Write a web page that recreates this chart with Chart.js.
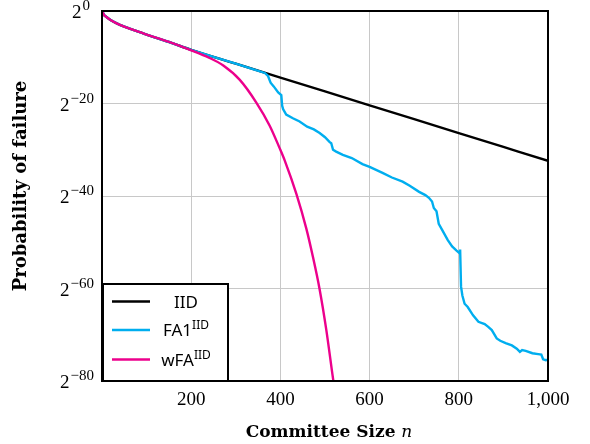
<!DOCTYPE html>
<html>
<head>
<meta charset="utf-8">
<script src="https://cdn.jsdelivr.net/npm/chart.js@4.4.0/dist/chart.umd.min.js"></script>
<style>
  html, body { margin: 0; padding: 0; background: #fff; }
  canvas { display: block; }
</style>
</head>
<body>
<canvas id="grafico" width="590" height="444"></canvas>
<script>
// valores (expoente de base 2 da probabilidade de falha)
const iidN   = [0, 5, 10, 20, 40, 70, 100, 150, 200, 300, 400, 500, 600, 700, 800, 900, 1000];
const iidLog = [0, -0.9, -1.3, -2.0, -3.0, -4.1, -5.1, -6.7, -8.4, -11.4, -14.4, -17.4, -20.4, -23.4, -26.4, -29.4, -32.4];

const fa1N = [0, 5, 10, 20, 40, 70, 100, 150, 200, 250, 300, 340, 365, 372, 378, 385, 395, 402, 404, 406, 413,
  428, 443, 460, 475, 488, 500, 510, 514, 518, 525, 540, 560, 584, 600, 629, 650, 674, 690, 711, 725, 733,
  740, 744, 750, 755, 762, 775, 785, 795, 802, 803, 805, 808, 813, 820, 832, 844, 858, 866, 874, 885, 893,
  905, 919, 930, 937, 942, 950, 965, 978, 985, 989, 995, 1000];
const fa1Log = [0, -0.9, -1.3, -2.0, -3.0, -4.1, -5.1, -6.7, -8.4, -9.9, -11.4, -12.6, -13.4, -14.0, -15.5, -16.3, -17.6, -18.2, -20.5, -21.2, -22.4,
  -23.2, -23.9, -25.0, -25.6, -26.4, -27.3, -28.3, -28.6, -30.0, -30.4, -31.1, -31.8, -33.1, -33.7, -35.0, -36.0, -36.9, -37.8, -39.1, -39.8, -40.4,
  -41.2, -42.6, -43.3, -46.0, -47.2, -49.5, -50.9, -51.8, -52.4, -51.6, -59.6, -61.5, -63.3, -64.0, -65.8, -67.2, -67.7, -68.3, -69.0, -70.8, -71.3,
  -71.8, -72.3, -73.0, -73.7, -73.3, -73.5, -74.0, -74.2, -74.3, -75.3, -75.5, -75.4];

const wfaN   = [0, 5, 10, 20, 40, 70, 100, 150, 200, 240, 272, 309, 346, 376, 398, 410, 436, 458, 473, 488, 503, 517, 521];
const wfaLog = [0, -0.9, -1.3, -2.0, -3.0, -4.1, -5.1, -6.7, -8.5, -10.1, -11.8, -14.9, -19.8, -24.8, -29.6, -32.4, -39.6, -47.0, -53.2, -60.2, -69.0, -78.8, -81.5];

const xTicks = [200, 400, 600, 800, 1000];
const yTicks = [0, -20, -40, -60, -80];

const legendas = [
  { base: 'IID', sup: '', cor: '#000000' },
  { base: 'FA1', sup: 'IID', cor: '#00aeef' },
  { base: 'wFA', sup: 'IID', cor: '#ec008c' }
];

const pontos = (xs, ys) => xs.map((x, i) => ({ x: x, y: ys[i] }));

const serif = "'Liberation Serif', 'DejaVu Serif', serif";
const serifTit = "'DejaVu Serif', 'Liberation Serif', serif";
const sans = "'Noto Sans', 'DejaVu Sans', sans-serif";

// desenha moldura, rótulos do eixo y (2^k), títulos e legenda
const extras = {
  id: 'extras',
  afterDatasetsDraw(chart) {
    const ctx = chart.ctx;
    const a = chart.chartArea;
    const ys = chart.scales.y;
    ctx.save();

    // moldura
    ctx.strokeStyle = '#000';
    ctx.lineWidth = 2;
    ctx.strokeRect(a.left, a.top, a.right - a.left, a.bottom - a.top);

    // rótulos 2^k
    ctx.fillStyle = '#000';
    ctx.textBaseline = 'alphabetic';
    ctx.textAlign = 'left';
    yTicks.forEach(v => {
      const y = ys.getPixelForValue(v);
      const exp = v === 0 ? '0' : '\u2212' + Math.abs(v);
      ctx.font = '19px ' + serif;
      const w2 = ctx.measureText('2').width;
      ctx.font = '15px ' + serif;
      const we = ctx.measureText(exp).width;
      const xr = v === 0 ? 90 : 94;
      const x0 = xr - w2 - we - 1;
      ctx.font = '19px ' + serif;
      ctx.fillText('2', x0, y + 7);
      ctx.font = '15px ' + serif;
      ctx.fillText(exp, x0 + w2 + 1, y - 1);
    });

    // título do eixo y
    ctx.save();
    ctx.translate(26, 186);
    ctx.rotate(-Math.PI / 2);
    ctx.font = 'bold 18px ' + serifTit;
    ctx.textAlign = 'center';
    ctx.fillText('Probability of failure', 0, 0);
    ctx.restore();

    // título do eixo x
    ctx.font = 'bold 17px ' + serifTit;
    const t1 = 'Committee Size ';
    const w1 = ctx.measureText(t1).width;
    ctx.font = 'italic 17px ' + serifTit;
    const wn = ctx.measureText('n').width;
    let xt = 329 - (w1 + wn) / 2;
    ctx.font = 'bold 17px ' + serifTit;
    ctx.fillText(t1, xt, 437);
    ctx.font = 'italic 17px ' + serifTit;
    ctx.fillText('n', xt + w1, 437);

    // legenda
    ctx.fillStyle = '#fff';
    ctx.fillRect(103, 284, 125, 97);
    ctx.strokeStyle = '#000';
    ctx.lineWidth = 2;
    ctx.strokeRect(103, 284, 125, 97);
    const linhasY = [301.5, 330, 359.5];
    legendas.forEach((l, i) => {
      const y = linhasY[i];
      ctx.strokeStyle = l.cor;
      ctx.lineWidth = 2.4;
      ctx.beginPath();
      ctx.moveTo(112, y);
      ctx.lineTo(150, y);
      ctx.stroke();
      ctx.fillStyle = '#000';
      ctx.font = '17px ' + sans;
      const wb = ctx.measureText(l.base).width;
      ctx.font = '12px ' + sans;
      const ws = l.sup ? ctx.measureText(l.sup).width : 0;
      const xs = 186 - (wb + ws) / 2;
      ctx.font = '17px ' + sans;
      ctx.fillText(l.base, xs, y + 6);
      if (l.sup) {
        ctx.font = '12px ' + sans;
        ctx.fillText(l.sup, xs + wb, y - 1);
      }
    });
    ctx.restore();
  }
};

const ctx = document.getElementById('grafico').getContext('2d');
const grafico = new Chart(ctx, {
  type: 'line',
  data: {
    datasets: [
      { label: 'IID', data: pontos(iidN, iidLog), borderColor: '#000000', borderWidth: 2.4,
        pointRadius: 0, cubicInterpolationMode: 'monotone', order: 3 },
      { label: 'FA1', data: pontos(fa1N, fa1Log), borderColor: '#00aeef', borderWidth: 2.4,
        pointRadius: 0, tension: 0, order: 2 },
      { label: 'wFA', data: pontos(wfaN, wfaLog), borderColor: '#ec008c', borderWidth: 2.4,
        pointRadius: 0, cubicInterpolationMode: 'monotone', order: 1 }
    ]
  },
  options: {
    responsive: false,
    animation: false,
    layout: { padding: { left: 0, right: 42, top: 11, bottom: 0 } },
    plugins: { legend: { display: false }, tooltip: { enabled: false } },
    scales: {
      x: {
        type: 'linear', min: 0, max: 1000,
        afterBuildTicks: s => { s.ticks = xTicks.map(v => ({ value: v })); },
        afterFit: s => { s.height = 63; },
        border: { display: false },
        grid: { color: '#c8c8c8', lineWidth: 1, drawTicks: false },
        ticks: {
          padding: 8, color: '#000', font: { family: serif, size: 19 },
          maxRotation: 0,
          callback: v => v.toLocaleString('en-US')
        }
      },
      y: {
        type: 'linear', min: -80, max: 0,
        afterBuildTicks: s => { s.ticks = yTicks.map(v => ({ value: v })); },
        afterFit: s => { s.width = 102; },
        border: { display: false },
        grid: { color: '#c8c8c8', lineWidth: 1, drawTicks: false },
        ticks: { display: false }
      }
    }
  },
  plugins: [extras]
});
</script>
</body>
</html>
